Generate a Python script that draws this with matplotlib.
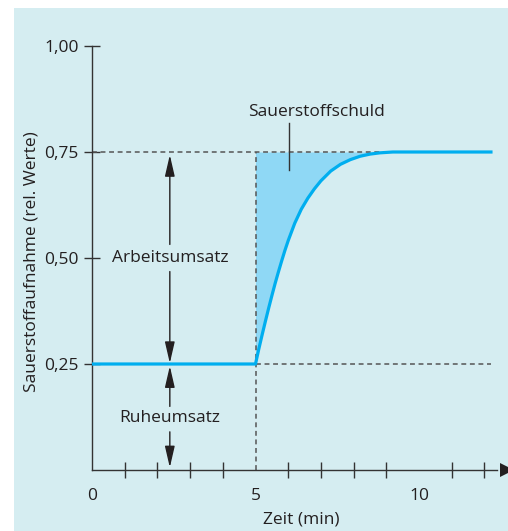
import matplotlib.pyplot as plt
from matplotlib.patches import Rectangle

plt.rcParams["font.family"] = ["Open Sans", "DejaVu Sans"]

# Daten
rest_t = [0.0, 5.0]
rest_y = [0.25, 0.25]
rise_t = [5.0, 5.1, 5.2, 5.3, 5.4, 5.5, 5.6, 5.7, 5.8, 5.9, 6.0, 6.2, 6.4, 6.6, 6.8,
          7.0, 7.3, 7.6, 7.9, 8.2, 8.5, 8.8, 9.2, 12.2]
rise_y = [0.25, 0.285, 0.318, 0.350, 0.381, 0.411, 0.440, 0.467, 0.493, 0.518, 0.541,
          0.582, 0.615, 0.641, 0.663, 0.682, 0.705, 0.721, 0.732, 0.740, 0.745, 0.748,
          0.75, 0.75]
yticks = [0.25, 0.50, 0.75, 1.00]
ytick_labels = ["0,25", "0,50", "0,75", "1,00"]
xticks = [0, 5, 10]
xtick_labels = ["0", "5", "10"]
minor_xticks = list(range(1, 13))

W, H = 508, 531
fig = plt.figure(figsize=(W / 100, H / 100), dpi=100)
fig.patches.append(Rectangle((14 / W, 0), 1 - 14 / W, 1 - 8 / H, transform=fig.transFigure,
                             facecolor="#d5edf1", edgecolor="none", zorder=-10))

ax = fig.add_axes([92 / W, (H - 470) / H, (W - 92) / W, 430 / H])
ax.set_xlim(0, 416 / 32.7)
ax.set_ylim(0, 430 / 424)
ax.patch.set_alpha(0)

axis_col = "#333333"
dash_col = "#555555"
line_col = "#00aeef"
fill_col = "#8fd8f5"
txt_col = "#231f20"
fs = 12.5

for s in ["top", "right"]:
    ax.spines[s].set_visible(False)
ax.spines["left"].set_bounds(0, 1.0)
ax.spines["bottom"].set_bounds(0, 12.4)
for s in ["left", "bottom"]:
    ax.spines[s].set_color(axis_col)
    ax.spines[s].set_linewidth(1.0)
ax.plot([12.69], [0], marker=">", markersize=10, color="#231f20", clip_on=False,
        markeredgewidth=0, zorder=5)

ax.set_yticks(yticks)
ax.set_yticklabels(ytick_labels)
ax.tick_params(axis="y", direction="inout", length=11.5, width=1.0, color=axis_col,
               pad=4, labelsize=fs, labelcolor=txt_col)
ax.set_xticks(xticks)
ax.set_xticklabels(xtick_labels)
ax.set_xticks(minor_xticks, minor=True)
ax.tick_params(axis="x", which="major", length=0, pad=13, labelsize=fs, labelcolor=txt_col)
ax.tick_params(axis="x", which="minor", direction="inout", length=11, width=1.0, color=axis_col)

# gestrichelte Hilfslinien
dash = (0, (3.2, 2.4))
ax.plot([0, 9.0], [0.75, 0.75], color=dash_col, lw=1.1, linestyle=dash, zorder=2)
ax.plot([5, 5], [0, 0.75], color=dash_col, lw=1.1, linestyle=dash, zorder=2)
ax.plot([5, 12.2], [0.25, 0.25], color=dash_col, lw=1.1, linestyle=dash, zorder=2)

# Sauerstoffschuld-Fläche und Kurve
ax.fill_between(rise_t, rise_y, 0.75, color=fill_col, linewidth=0, zorder=1)
ax.plot(rest_t + rise_t, rest_y + rise_y, color=line_col, lw=2.3, zorder=3,
        solid_joinstyle="round")

# Pfeile
arrow_kw = dict(arrowstyle="-|>,head_length=1.3,head_width=0.3", color=txt_col, lw=1.0,
                shrinkA=0, shrinkB=0, mutation_scale=10)
xa = 2.38
ax.annotate("", xy=(xa, 0.743), xytext=(xa, 0.532), arrowprops=arrow_kw)
ax.annotate("", xy=(xa, 0.252), xytext=(xa, 0.468), arrowprops=arrow_kw)
ax.annotate("", xy=(xa, 0.245), xytext=(xa, 0.15), arrowprops=arrow_kw)
ax.annotate("", xy=(xa, 0.006), xytext=(xa, 0.09), arrowprops=arrow_kw)

ax.text(xa, 0.50, "Arbeitsumsatz", ha="center", va="center", fontsize=fs, color=txt_col)
ax.text(xa, 0.123, "Ruheumsatz", ha="center", va="center", fontsize=fs, color=txt_col)
ax.text(6.87, 0.844, "Sauerstoffschuld", ha="center", va="center", fontsize=fs, color=txt_col)
ax.plot([6.02, 6.02], [0.708, 0.819], color=axis_col, lw=1.0, zorder=4)

fig.text(32 / W, 1 - 262 / H, "Sauerstoffaufnahme (rel. Werte)", rotation=90,
         ha="center", va="center", fontsize=fs, color=txt_col)
fig.text(301 / W, 1 - 520 / H, "Zeit (min)", ha="center", va="center", fontsize=fs,
         color=txt_col)

fig.savefig("out.png", dpi=100, facecolor="white")
